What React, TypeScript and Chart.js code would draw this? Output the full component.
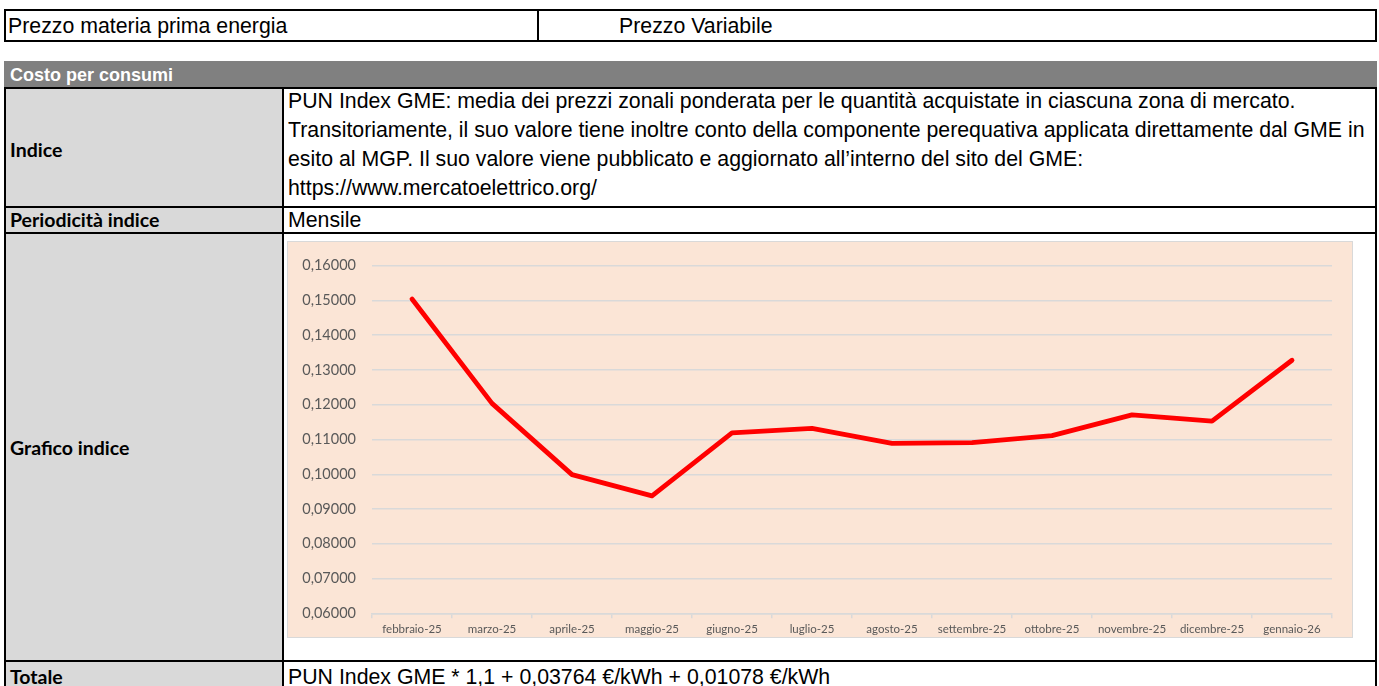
import React, { useEffect, useRef } from "react";
import { Chart, registerables } from "chart.js";

Chart.register(...registerables);

// ---- data ----
const months: string[] = [
  "febbraio-25",
  "marzo-25",
  "aprile-25",
  "maggio-25",
  "giugno-25",
  "luglio-25",
  "agosto-25",
  "settembre-25",
  "ottobre-25",
  "novembre-25",
  "dicembre-25",
  "gennaio-26",
];
const punIndex: number[] = [
  0.1504, 0.1204, 0.0999, 0.0938, 0.1119, 0.1132, 0.1089, 0.1091, 0.1111,
  0.1171, 0.1153, 0.1328,
];
const yMin = 0.06;
const yMax = 0.16;
const yStep = 0.01;

const indiceLines: string[] = [
  "PUN Index GME: media dei prezzi zonali ponderata per le quantità acquistate in ciascuna zona di mercato.",
  "Transitoriamente, il suo valore tiene inoltre conto della componente perequativa applicata direttamente dal GME in",
  "esito al MGP. Il suo valore viene pubblicato e aggiornato all’interno del sito del GME:",
  "https://www.mercatoelettrico.org/",
];

const ARIAL = '"Liberation Sans", Arial, sans-serif';
const CAL = 'Lato, "Open Sans", sans-serif';

function ChartBox() {
  const ref = useRef<HTMLCanvasElement | null>(null);
  useEffect(() => {
    if (!ref.current) return;
    const chart = new Chart(ref.current, {
      type: "line",
      data: {
        labels: months,
        datasets: [
          {
            data: punIndex,
            borderColor: "#ff0000",
            backgroundColor: "#ff0000",
            borderWidth: 4.8,
            pointRadius: 0,
            tension: 0,
            fill: false,
            borderCapStyle: "round",
            borderJoinStyle: "round",
          },
        ],
      },
      options: {
        responsive: false,
        animation: false,
        layout: { padding: { top: 23, right: 21, left: 0, bottom: 0 } },
        plugins: { legend: { display: false }, tooltip: { enabled: false } },
        scales: {
          x: {
            offset: true,
            grid: {
              offset: true,
              drawOnChartArea: false,
              drawTicks: true,
              tickLength: 5,
              color: "#d9d9d9",
              lineWidth: 1.5,
            },
            border: { display: true, color: "#d9d9d9", width: 1.5 },
            ticks: {
              autoSkip: false,
              maxRotation: 0,
              minRotation: 0,
              padding: 4,
              color: "#595959",
              font: { family: "Lato", size: 11.5 },
            },
            afterFit: (s: any) => {
              s.height = 24;
            },
          },
          y: {
            min: yMin,
            max: yMax,
            ticks: {
              stepSize: yStep,
              padding: 16,
              color: "#595959",
              font: { family: "Lato", size: 14.5 },
              callback: (v: any) => Number(v).toFixed(5).replace(".", ","),
            },
            grid: { drawTicks: false, color: "#d9d9d9", lineWidth: 1.5 },
            border: { display: false },
            afterFit: (s: any) => {
              s.width = 85;
            },
          },
        },
      },
    } as any);
    return () => chart.destroy();
  }, []);
  return (
    <>
      <div
        style={{
          position: "absolute",
          left: 287,
          top: 241,
          width: 1066,
          height: 397,
          boxSizing: "border-box",
          background: "#fbe5d6",
          border: "1.5px solid #d9d9d9",
        }}
      />
      <canvas
        ref={ref}
        width={1066}
        height={397}
        style={{ position: "absolute", left: 287, top: 241, width: 1066, height: 397 }}
      />
    </>
  );
}

const line = (l: number, t: number, w: number, h: number, c = "#000") => (
  <div style={{ position: "absolute", left: l, top: t, width: w, height: h, background: c }} />
);

const text = (
  s: string,
  l: number,
  cy: number,
  font: string,
  size: number,
  weight = 400,
  color = "#000"
) => (
  <div
    style={{
      position: "absolute",
      left: l,
      top: cy - 15,
      height: 30,
      lineHeight: "30px",
      fontFamily: font,
      fontSize: size,
      fontWeight: weight,
      color,
      whiteSpace: "nowrap",
    }}
  >
    {s}
  </div>
);

export default function App() {
  return (
    <div
      style={{
        position: "fixed",
        left: 0,
        top: 0,
        width: 1379,
        height: 686,
        background: "#fff",
        overflow: "hidden",
      }}
    >
      {/* top box */}
      <div
        style={{
          position: "absolute",
          left: 4,
          top: 9,
          width: 1373,
          height: 33,
          boxSizing: "border-box",
          border: "2px solid #000",
        }}
      />
      {line(537, 9, 2, 33)}
      {text("Prezzo materia prima energia", 8, 26, ARIAL, 21.3)}
      {text("Prezzo Variabile", 619, 26, ARIAL, 21.3)}

      {/* header */}
      <div
        style={{
          position: "absolute",
          left: 4,
          top: 61,
          width: 1373,
          height: 27,
          background: "#808080",
        }}
      />
      {text("Costo per consumi", 10, 75, ARIAL, 18, 700, "#fff")}

      {/* table background */}
      <div style={{ position: "absolute", left: 4, top: 88, width: 280, height: 600, background: "#d9d9d9" }} />
      {line(4, 87, 1373, 2)}
      {line(4, 206, 1373, 2)}
      {line(4, 232, 1373, 2)}
      {line(4, 660, 1373, 2)}
      {line(4, 87, 2, 600)}
      {line(282, 87, 2, 600)}
      {line(1375, 87, 2, 600)}

      {/* labels */}
      {text("Indice", 10, 150, CAL, 19.5, 700)}
      {text("Periodicità indice", 10, 220, CAL, 19.5, 700)}
      {text("Grafico indice", 10, 448, CAL, 19.5, 700)}
      {text("Totale", 10, 677, CAL, 19.5, 700)}

      {/* right column texts */}
      {indiceLines.map((s, i) => (
        <React.Fragment key={i}>{text(s, 288, 101 + i * 29, ARIAL, 21.3)}</React.Fragment>
      ))}
      {text("Mensile", 288, 220, ARIAL, 21.3)}
      {text("PUN Index GME * 1,1 + 0,03764 €/kWh + 0,01078 €/kWh", 288, 677, ARIAL, 21.3)}

      <ChartBox />
    </div>
  );
}
